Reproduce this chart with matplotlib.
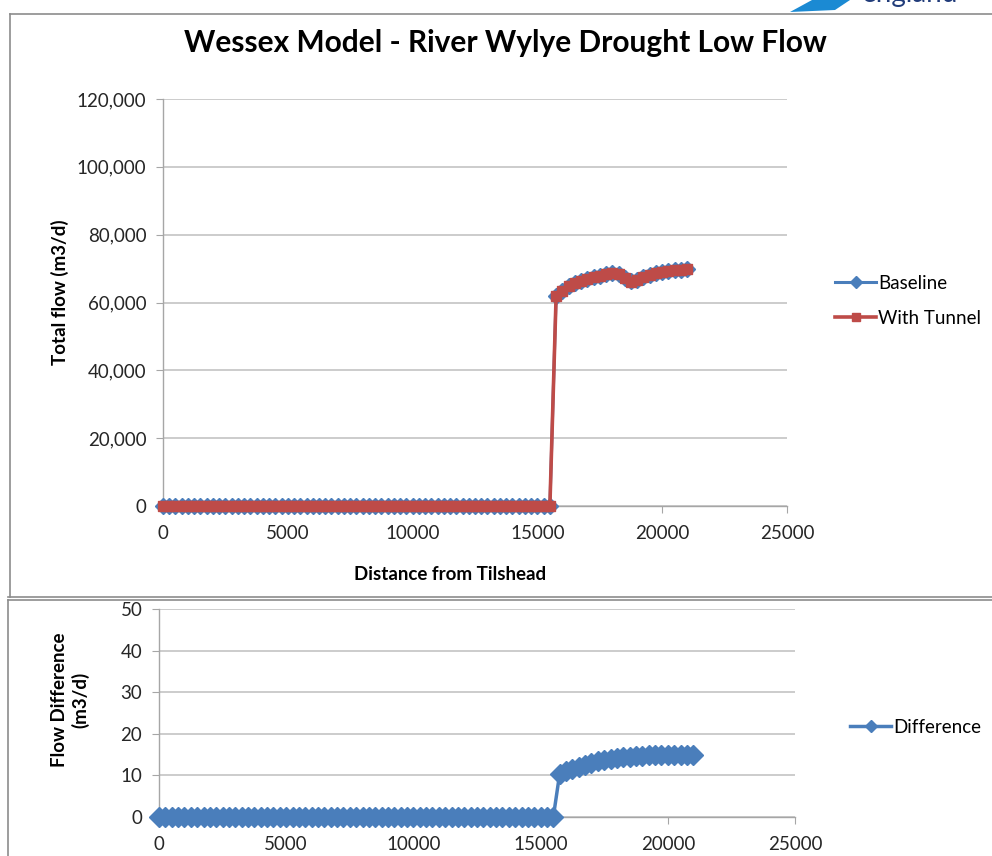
import numpy as np
import matplotlib.pyplot as plt
from matplotlib.lines import Line2D
from matplotlib.patches import Polygon

plt.rcParams['font.family'] = ['Lato', 'DejaVu Sans']

# distance along river (m), 250 m steps
distance = list(range(0, 21001, 250))

flat_len = len(range(0, 15501, 250))
baseline_tail = [62000, 63500, 64800, 65800, 66400, 66900, 67400, 67900, 68300, 68600, 68500,
                 67200, 66200, 66600, 67500, 68100, 68600, 69000, 69300, 69500, 69700, 69800]
tunnel_tail = [61990, 63489, 64788, 65788, 66387, 66887, 67387, 67886, 68286, 68586, 68486,
               67186, 66185, 66585, 67485, 68085, 68585, 68985, 69285, 69485, 69685, 69785]
diff_tail = [10.4, 11.0, 11.6, 12.1, 12.6, 13.0, 13.4, 13.7, 14.0, 14.2, 14.4,
             14.5, 14.6, 14.7, 14.8, 14.9, 14.9, 15.0, 15.0, 15.0, 15.0, 15.0]

baseline = [0] * flat_len + baseline_tail
with_tunnel = [0] * flat_len + tunnel_tail
difference = [0] * flat_len + diff_tail

top_yticks = [0, 20000, 40000, 60000, 80000, 100000, 120000]
bot_yticks = [0, 10, 20, 30, 40, 50]
xticks = [0, 5000, 10000, 15000, 20000, 25000]

blue = '#4A7EBB'
red = '#BE4B48'
grid = '#BFBFBF'
W, H = 992, 856

fig = plt.figure(figsize=(W / 100, H / 100), dpi=100)


def fx(px):
    return px / W


def fy(py):
    return 1 - py / H


def style(ax):
    for s in ['top', 'right']:
        ax.spines[s].set_visible(False)
    for s in ['left', 'bottom']:
        ax.spines[s].set_color('#A6A6A6')
        ax.spines[s].set_linewidth(1.0)
    ax.grid(axis='y', color=grid, linewidth=1.1)
    ax.set_axisbelow(True)
    ax.tick_params(axis='both', direction='out', length=5, color='#A6A6A6',
                   labelsize=13.5, labelcolor='#262626')
    ax.tick_params(axis='y', pad=7)
    ax.tick_params(axis='x', pad=9)
    ax.set_xticks(xticks)
    ax.set_xlim(0, 25000)


# top chart
ax1 = fig.add_axes([fx(163), fy(506), fx(787) - fx(163), fy(99) - fy(506)])
style(ax1)
ax1.plot(distance, baseline, color=blue, lw=2.2, marker='D', ms=8.5, clip_on=False,
         label='Baseline', zorder=3)
ax1.plot(distance, with_tunnel, color=red, lw=2.6, marker='s', ms=7.5, clip_on=False,
         label='With Tunnel', zorder=4)
ax1.set_ylim(0, 120000)
ax1.set_yticks(top_yticks)
ax1.set_yticklabels([f'{v:,}' for v in top_yticks])
ax1.legend(loc='upper left', bbox_to_anchor=(fx(835), fy(275)), bbox_transform=fig.transFigure,
           frameon=False, fontsize=13.5, handlelength=2.2, handletextpad=0.1,
           labelspacing=0.95, borderpad=0, borderaxespad=0, markerscale=0.75)

# bottom chart
ax2 = fig.add_axes([fx(159), fy(817), fx(795) - fx(159), fy(609) - fy(817)])
style(ax2)
ax2.plot(distance, difference, color=blue, lw=2.5, marker='D', ms=10, clip_on=False,
         label='Difference', zorder=3)
ax2.set_ylim(0, 50)
ax2.set_yticks(bot_yticks)
ax2.legend(loc='upper left', bbox_to_anchor=(fx(850), fy(719)), bbox_transform=fig.transFigure,
           frameon=False, fontsize=13.5, handlelength=2.2, handletextpad=0.1,
           borderpad=0, borderaxespad=0, markerscale=0.65)

# titles and labels
fig.text(fx(505), fy(43), 'Wessex Model - River Wylye Drought Low Flow', ha='center', va='center',
         fontsize=21.5, fontweight='bold', color='black')
fig.text(fx(60), fy(292), 'Total flow (m3/d)', rotation=90, ha='center', va='center',
         fontsize=13.5, fontweight='bold', color='black')
fig.text(fx(450), fy(574), 'Distance from Tilshead', ha='center', va='center',
         fontsize=13.5, fontweight='bold', color='black')
fig.text(fx(70), fy(700), 'Flow Difference\n(m3/d)', rotation=90, ha='center', va='center',
         fontsize=13.5, fontweight='bold', color='black', multialignment='center', linespacing=1.25)

# chart frames
frame = '#8C8C8C'
fig.add_artist(Line2D([fx(10), fx(10)], [fy(14), fy(597)], color=frame, lw=1.2))
fig.add_artist(Line2D([fx(10), 1], [fy(14), fy(14)], color=frame, lw=1.2))
fig.add_artist(Line2D([fx(8), 1], [fy(597), fy(597)], color=frame, lw=1.2))
fig.add_artist(Line2D([fx(8), 1], [fy(600), fy(600)], color=frame, lw=1.2))
fig.add_artist(Line2D([fx(8), fx(8)], [fy(600), 0], color=frame, lw=1.2))

# logo fragment at top right
fig.add_artist(Polygon([[fx(790), fy(12)], [fx(812), fy(0)], [fx(850), fy(0)], [fx(835), fy(10)]],
                       closed=True, transform=fig.transFigure, color='#1B8AD3', lw=0))
fig.text(fx(862), fy(-6), 'england', ha='left', va='center', fontsize=20, color='#213C7A')

fig.savefig('out.png', dpi=100)
